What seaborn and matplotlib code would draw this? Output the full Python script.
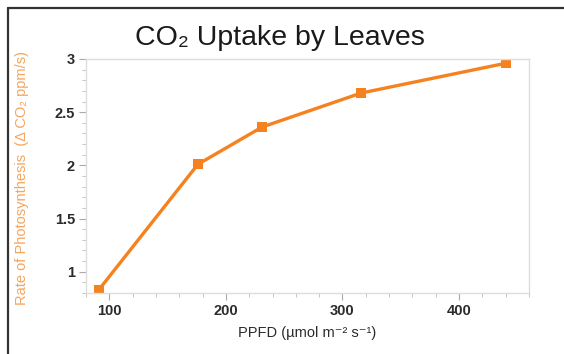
import matplotlib
matplotlib.use("Agg")
import matplotlib.pyplot as plt
from matplotlib.lines import Line2D
from matplotlib.ticker import MultipleLocator, FuncFormatter
import pandas as pd
import seaborn as sns

# Light intensity (PPFD) vs. rate of photosynthesis
ppfd = [91, 176, 231, 316, 440]
rate = [0.83, 2.01, 2.36, 2.68, 2.96]

title = "CO\u2082 Uptake by Leaves"
xlabel = "PPFD (\u00b5mol m\u207b\u00b2 s\u207b\u00b9)"
ylabel = "Rate of Photosynthesis  (\u0394 CO\u2082 ppm/s)"

line_color = "#F5821F"
label_color = "#F6A55C"
text_color = "#2b2b2b"

sns.set_style("white")
plt.rcParams["font.family"] = ["Liberation Sans", "DejaVu Sans"]

df = pd.DataFrame({"ppfd": ppfd, "rate": rate})

fig = plt.figure(figsize=(5.64, 3.54), dpi=100)
ax = fig.add_axes([86 / 564, 1 - 293 / 354, (529 - 86) / 564, (293 - 59) / 354])

sns.lineplot(data=df, x="ppfd", y="rate", ax=ax, color=line_color,
             marker="s", markersize=7, markeredgewidth=0, linewidth=2.4)

ax.set_xlim(80, 460)
ax.set_ylim(0.8, 3.0)
ax.xaxis.set_major_locator(MultipleLocator(100))
ax.xaxis.set_minor_locator(MultipleLocator(20))
ax.yaxis.set_major_locator(MultipleLocator(0.5))
ax.yaxis.set_minor_locator(MultipleLocator(0.1))
ax.yaxis.set_major_formatter(FuncFormatter(lambda v, p: f"{v:g}"))

ax.tick_params(axis="both", which="major", length=5, width=0.8, color="#aaaaaa",
               labelsize=10.5, labelcolor=text_color, pad=3, direction="out")
ax.tick_params(axis="both", which="minor", length=3, width=0.6, color="#bbbbbb",
               direction="out")
ax.tick_params(axis="x", which="both", bottom=True)
ax.tick_params(axis="y", which="both", left=True)
for lbl in ax.get_xticklabels() + ax.get_yticklabels():
    lbl.set_fontweight("bold")

for s in ax.spines.values():
    s.set_color("#dddddd")
    s.set_linewidth(1.0)

ax.set_xlabel(xlabel, fontsize=10.5, color=text_color, labelpad=6)
ax.set_ylabel("")
fig.text(22 / 564, 1 - 178 / 354, ylabel, rotation=90, fontsize=10.5,
         color=label_color, ha="center", va="center")

fig.text(280 / 564, 1 - 38 / 354, title, fontsize=20.5, color="#1a1a1a",
         ha="center", va="center")

# outer frame (left and top edges)
fig.add_artist(Line2D([8 / 564, 8 / 564], [0, 1 - 8 / 354], transform=fig.transFigure,
                      color="#333333", linewidth=1.6))
fig.add_artist(Line2D([8 / 564, 1], [1 - 8 / 354, 1 - 8 / 354], transform=fig.transFigure,
                      color="#333333", linewidth=1.6))

fig.savefig("out.png", dpi=100, facecolor="white")
